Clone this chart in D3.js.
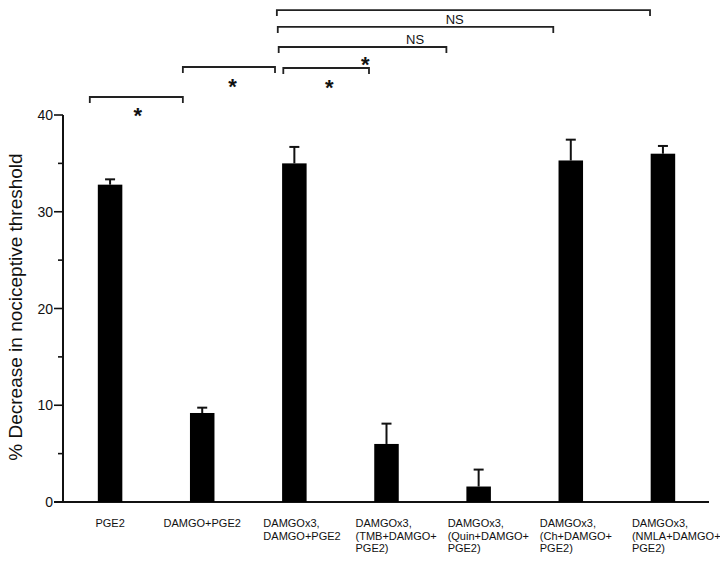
<!DOCTYPE html>
<html>
<head>
<meta charset="utf-8">
<script src="https://cdnjs.cloudflare.com/ajax/libs/d3/7.8.5/d3.min.js"></script>
<style>
	body { margin: 0; background: #fff; }
	text { font-family: Helvetica, Arial, "Liberation Sans", sans-serif; fill: #111; }
</style>
</head>
<body>
<div id="chart"></div>
<script>
////////////////////////////////////////////////////////////
//////////////////////// Data //////////////////////////////
////////////////////////////////////////////////////////////
var groups = ["PGE2", "DAMGO+PGE2", "DAMGOx3, DAMGO+PGE2", "DAMGOx3, (TMB+DAMGO+PGE2)",
	"DAMGOx3, (Quin+DAMGO+PGE2)", "DAMGOx3, (Ch+DAMGO+PGE2)", "DAMGOx3, (NMLA+DAMGO+PGE2)"];
var groupLines = [
	["PGE2"],
	["DAMGO+PGE2"],
	["DAMGOx3,", "DAMGO+PGE2"],
	["DAMGOx3,", "(TMB+DAMGO+", "PGE2)"],
	["DAMGOx3,", "(Quin+DAMGO+", "PGE2)"],
	["DAMGOx3,", "(Ch+DAMGO+", "PGE2)"],
	["DAMGOx3,", "(NMLA+DAMGO+", "PGE2)"]
];
var means = [32.8, 9.2, 35.0, 6.0, 1.6, 35.3, 36.0];
var errors = [0.55, 0.55, 1.7, 2.1, 1.75, 2.15, 0.8];
var yTicks = [0, 10, 20, 30, 40];
var yMinorTicks = [5, 15, 25, 35];

// significance brackets: ends in group-index units, level in y units
var bracketFrom = [-0.22, 0.79, 1.88, 1.83, 1.82, 1.81];
var bracketTo = [0.79, 1.79, 2.81, 3.65, 4.81, 5.86];
var bracketLevel = [41.86, 44.96, 44.86, 47.03, 49.1, 50.85];
var bracketText = ["*", "*", "*", "*", "NS", "NS"];
var labelX = [0.30, 1.33, 2.38, 2.77, 3.31, 3.74];
var labelY = [40.5, 43.5, 43.4, 45.7, 47.85, 49.9];

////////////////////////////////////////////////////////////
//////////////////////// Setup /////////////////////////////
////////////////////////////////////////////////////////////
var width = 720, height = 562;

var svg = d3.select("#chart")
	.append("svg")
	.attr("width", width)
	.attr("height", height);

var x = d3.scaleBand()
	.domain(groups)
	.range([64, 709])
	.paddingInner(0.734)
	.paddingOuter(0.367);

var y = d3.scaleLinear()
	.domain([0, 40])
	.range([502, 115]);

// index -> pixel, for brackets
var xi = d3.scaleLinear()
	.domain([0, groups.length - 1])
	.range([x(groups[0]) + x.bandwidth() / 2, x(groups[groups.length - 1]) + x.bandwidth() / 2]);

////////////////////////////////////////////////////////////
//////////////////////// Axes //////////////////////////////
////////////////////////////////////////////////////////////
var axisX = 63;

svg.append("line")
	.attr("x1", axisX).attr("x2", axisX)
	.attr("y1", y(0)).attr("y2", y(40))
	.attr("stroke", "#111").attr("stroke-width", 2);

svg.append("line")
	.attr("x1", axisX - 9).attr("x2", 709)
	.attr("y1", y(0)).attr("y2", y(0))
	.attr("stroke", "#111").attr("stroke-width", 2);

svg.selectAll(".majorTick")
	.data(yTicks)
	.enter().append("line")
	.attr("class", "majorTick")
	.attr("x1", axisX - 9).attr("x2", axisX)
	.attr("y1", function(d) { return y(d); })
	.attr("y2", function(d) { return y(d); })
	.attr("stroke", "#111").attr("stroke-width", 1.6);

svg.selectAll(".minorTick")
	.data(yMinorTicks)
	.enter().append("line")
	.attr("class", "minorTick")
	.attr("x1", axisX - 5).attr("x2", axisX)
	.attr("y1", function(d) { return y(d); })
	.attr("y2", function(d) { return y(d); })
	.attr("stroke", "#111").attr("stroke-width", 1.6);

svg.selectAll(".tickLabel")
	.data(yTicks)
	.enter().append("text")
	.attr("class", "tickLabel")
	.attr("x", axisX - 10)
	.attr("y", function(d) { return y(d); })
	.attr("dy", "0.36em")
	.attr("text-anchor", "end")
	.style("font-size", "14px")
	.text(function(d) { return d; });

svg.append("text")
	.attr("transform", "translate(22," + 307 + ") rotate(-90)")
	.attr("text-anchor", "middle")
	.style("font-size", "19px")
	.text("% Decrease in nociceptive threshold");

////////////////////////////////////////////////////////////
//////////////////////// Bars //////////////////////////////
////////////////////////////////////////////////////////////
svg.selectAll(".errLine")
	.data(means)
	.enter().append("line")
	.attr("class", "errLine")
	.attr("x1", function(d, i) { return x(groups[i]) + x.bandwidth() / 2; })
	.attr("x2", function(d, i) { return x(groups[i]) + x.bandwidth() / 2; })
	.attr("y1", function(d) { return y(d); })
	.attr("y2", function(d, i) { return y(d + errors[i]); })
	.attr("stroke", "#111").attr("stroke-width", 2);

svg.selectAll(".errCap")
	.data(means)
	.enter().append("line")
	.attr("class", "errCap")
	.attr("x1", function(d, i) { return x(groups[i]) + x.bandwidth() / 2 - 5; })
	.attr("x2", function(d, i) { return x(groups[i]) + x.bandwidth() / 2 + 5; })
	.attr("y1", function(d, i) { return y(d + errors[i]); })
	.attr("y2", function(d, i) { return y(d + errors[i]); })
	.attr("stroke", "#111").attr("stroke-width", 2);

svg.selectAll(".bar")
	.data(means)
	.enter().append("rect")
	.attr("class", "bar")
	.attr("x", function(d, i) { return x(groups[i]); })
	.attr("width", x.bandwidth())
	.attr("y", function(d) { return y(d); })
	.attr("height", function(d) { return y(0) - y(d); })
	.attr("fill", "#000");

// category labels
var lab = svg.selectAll(".catLabel")
	.data(groupLines)
	.enter().append("text")
	.attr("class", "catLabel")
	.style("font-size", "11px")
	.attr("text-anchor", function(d) { return d.length > 1 ? "start" : "middle"; })
	.attr("transform", function(d, i) {
		var c = x(groups[i]) + x.bandwidth() / 2;
		return "translate(" + (d.length > 1 ? c - 31 : c) + "," + (y(0) + 25) + ")";
	});

lab.selectAll("tspan")
	.data(function(d) { return d; })
	.enter().append("tspan")
	.attr("x", 0)
	.attr("y", function(d, j) { return j * 12.5; })
	.text(function(d) { return d; });

////////////////////////////////////////////////////////////
////////////////////// Brackets ////////////////////////////
////////////////////////////////////////////////////////////
bracketFrom.forEach(function(f, i) {
	var x1 = xi(f), x2 = xi(bracketTo[i]), yy = y(bracketLevel[i]);
	svg.append("path")
		.attr("d", "M" + x1 + "," + (yy + 6) + "V" + yy + "H" + x2 + "V" + (yy + 6))
		.attr("fill", "none")
		.attr("stroke", "#222")
		.attr("stroke-width", 1.8);

	var isStar = bracketText[i] == "*";
	svg.append("text")
		.attr("x", xi(labelX[i]))
		.attr("y", y(labelY[i]) + (isStar ? 12.5 : 0))
		.attr("dy", isStar ? 0 : "0.36em")
		.attr("text-anchor", "middle")
		.style("font-size", isStar ? "22px" : "13px")
		.style("font-weight", isStar ? "bold" : "normal")
		.text(bracketText[i]);
});
</script>
</body>
</html>
